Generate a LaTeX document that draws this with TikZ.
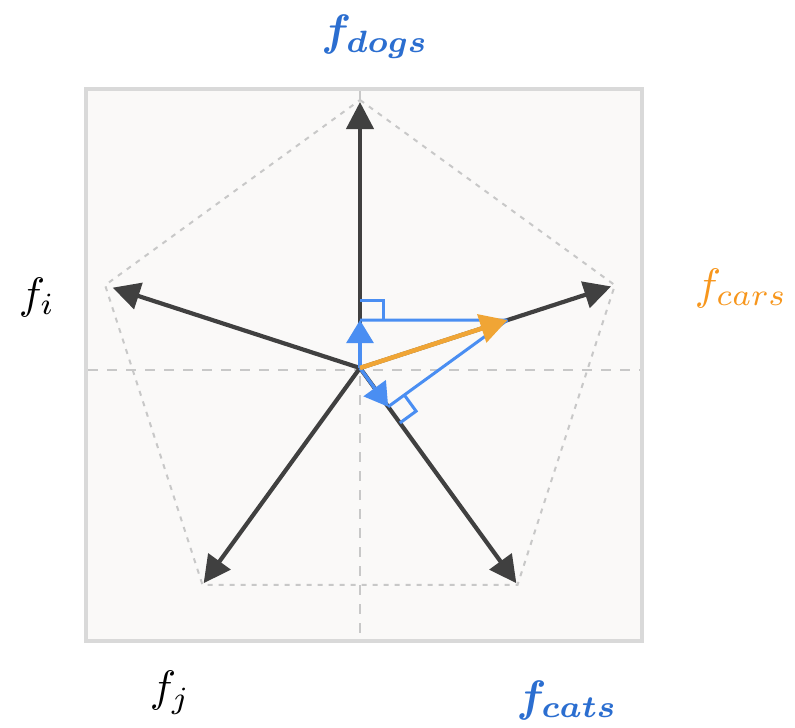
\documentclass[tikz,border=0pt]{standalone}
\usepackage{bm}
\usetikzlibrary{arrows.meta,calc}
\definecolor{boxfill}{HTML}{FAF9F8}
\definecolor{boxline}{HTML}{D9D9D9}
\definecolor{guide}{HTML}{C8C8C8}
\definecolor{darkvec}{HTML}{404040}
\definecolor{projblue}{HTML}{4A8EF2}
\definecolor{labblue}{HTML}{2B6ED0}
\definecolor{carorange}{HTML}{F0A535}
\definecolor{laborange}{HTML}{F7961C}
\newcommand{\biglab}[1]{\scalebox{4.4}{#1}}
\tikzset{
  axisvec/.style={draw=darkvec, line width=4.2pt, -{Triangle[length=27pt,width=27pt]}},
  projvec/.style={draw=projblue, line width=3.4pt, -{Triangle[length=23pt,width=27pt]}},
  projline/.style={draw=projblue, line width=3pt},
  carvec/.style={draw=carorange, line width=4.5pt, -{Triangle[length=27pt,width=29pt]}},
  axisguide/.style={draw=guide, line width=2.5pt, dash pattern=on 10pt off 9pt},
  pentguide/.style={draw=guide, line width=2pt, dash pattern=on 5pt off 6pt},
  lab/.style={inner sep=0pt}
}
\begin{document}
\begin{tikzpicture}[x=1pt,y=-1pt]
\useasboundingbox (0,0) rectangle (795,728);
\fill[white] (0,0) rectangle (795,728);
\draw[boxline, line width=4pt, fill=boxfill] (86,89) rectangle (642,641);
\coordinate (c) at (360,368);
% guides
\draw[axisguide] (88,370) -- (640,370);
\draw[axisguide] (360,91) -- (360,639);
\draw[pentguide] ($(c)+(-90:268)$) -- ($(c)+(-18:268)$) -- ($(c)+(54:268)$) -- ($(c)+(126:268)$) -- ($(c)+(198:268)$) -- cycle;
% axis vectors
\coordinate (dogs) at ($(c)+(-90:266)$);
\coordinate (cars) at ($(c)+(-18:264)$);
\coordinate (cats) at ($(c)+(54:266)$);
\coordinate (fj) at ($(c)+(126:266)$);
\coordinate (fi) at ($(c)+(198:260)$);
\draw[axisvec] (c) -- (dogs);
\draw[axisvec] (c) -- (cars);
\draw[axisvec] (c) -- (cats);
\draw[axisvec] (c) -- (fj);
\draw[axisvec] (c) -- (fi);
% projections
\coordinate (o) at ($(c)+(-18:155)$);
\coordinate (pd) at ($(c)+(-90:47.9)$);
\coordinate (pc) at ($(c)+(54:47.9)$);
\draw[projline] (pd) -- (o);
\draw[projline] (pc) -- (o);
\draw[projline] ($(pd)+(-90:20)$) -- ++(0:23) -- ++(90:20);
\draw[projline] ($(pc)+(54:20)$) -- ++(-36:20) -- ++(234:20);
\draw[projvec] (c) -- (pd);
\draw[projvec] (c) -- (pc);
\draw[carvec] (c) -- (o);
% labels
\node[lab, text=labblue] (ldogs) at (375,37) {\biglab{$\bm{f}_{\bm{dogs}}$}};
\node[lab, text=black] (li) at (37,297) {\biglab{$f_i$}};
\node[lab, text=laborange] (lcars) at (741,288) {\biglab{$f_{cars}$}};
\node[lab, text=black] (lj) at (170,693) {\biglab{$f_j$}};
\node[lab, text=labblue] (lcats) at (567,700) {\biglab{$\bm{f}_{\bm{cats}}$}};
\end{tikzpicture}
\end{document}
